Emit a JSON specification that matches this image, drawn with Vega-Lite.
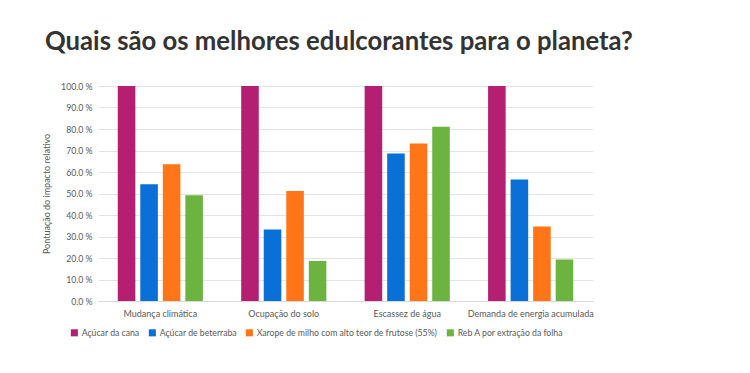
{
  "$schema": "https://vega.github.io/schema/vega-lite/v6.json",
  "width": 495,
  "height": 215,
  "autosize": {"type": "none"},
  "padding": {"left": 98, "top": 86, "right": 157, "bottom": 72},
  "background": "white",
  "title": {
    "text": "Quais são os melhores edulcorantes para o planeta?",
    "anchor": "start",
    "frame": "group",
    "dx": -53,
    "offset": 26,
    "font": "Lato",
    "fontSize": 25.7,
    "fontWeight": "bold",
    "color": "#333333"
  },
  "data": {
    "values": [
      {"categoria": "Mudança climática", "produto": "Açúcar da cana", "valor": 100},
      {"categoria": "Mudança climática", "produto": "Açúcar de beterraba", "valor": 54.3},
      {"categoria": "Mudança climática", "produto": "Xarope de milho com alto teor de frutose (55%)", "valor": 63.6},
      {"categoria": "Mudança climática", "produto": "Reb A por extração da folha", "valor": 49.2},
      {"categoria": "Ocupação do solo", "produto": "Açúcar da cana", "valor": 100},
      {"categoria": "Ocupação do solo", "produto": "Açúcar de beterraba", "valor": 33.2},
      {"categoria": "Ocupação do solo", "produto": "Xarope de milho com alto teor de frutose (55%)", "valor": 51.2},
      {"categoria": "Ocupação do solo", "produto": "Reb A por extração da folha", "valor": 18.6},
      {"categoria": "Escassez de água", "produto": "Açúcar da cana", "valor": 100},
      {"categoria": "Escassez de água", "produto": "Açúcar de beterraba", "valor": 68.6},
      {"categoria": "Escassez de água", "produto": "Xarope de milho com alto teor de frutose (55%)", "valor": 73.3},
      {"categoria": "Escassez de água", "produto": "Reb A por extração da folha", "valor": 81.1},
      {"categoria": "Demanda de energia acumulada", "produto": "Açúcar da cana", "valor": 100},
      {"categoria": "Demanda de energia acumulada", "produto": "Açúcar de beterraba", "valor": 56.5},
      {"categoria": "Demanda de energia acumulada", "produto": "Xarope de milho com alto teor de frutose (55%)", "valor": 34.6},
      {"categoria": "Demanda de energia acumulada", "produto": "Reb A por extração da folha", "valor": 19.3}
    ]
  },
  "mark": {"type": "bar"},
  "encoding": {
    "x": {
      "field": "categoria",
      "type": "nominal",
      "sort": ["Mudança climática", "Ocupação do solo", "Escassez de água", "Demanda de energia acumulada"],
      "scale": {"paddingInner": 0.31, "paddingOuter": 0.16},
      "axis": {
        "title": null,
        "labelAngle": 0,
        "labelFont": "Lato",
        "labelFontSize": 9,
        "labelColor": "#595959",
        "labelPadding": 8,
        "ticks": false,
        "domainColor": "#D9D9D9",
        "grid": false
      }
    },
    "xOffset": {
      "field": "produto",
      "type": "nominal",
      "sort": ["Açúcar da cana", "Açúcar de beterraba", "Xarope de milho com alto teor de frutose (55%)", "Reb A por extração da folha"],
      "scale": {"paddingInner": 0.22, "paddingOuter": 0}
    },
    "y": {
      "field": "valor",
      "type": "quantitative",
      "scale": {"domain": [0, 100], "nice": false},
      "axis": {
        "title": "Pontuação do impacto relativo",
        "titleFont": "Lato",
        "titleFontSize": 9,
        "titleFontWeight": "normal",
        "titleColor": "#595959",
        "titlePadding": 9,
        "values": [0, 10, 20, 30, 40, 50, 60, 70, 80, 90, 100],
        "labelExpr": "format(datum.value, '.1f') + ' %'",
        "labelFont": "Lato",
        "labelFontSize": 8.7,
        "labelColor": "#595959",
        "labelPadding": 6,
        "ticks": false,
        "domain": false,
        "gridColor": "#E3E3E3"
      }
    },
    "color": {
      "field": "produto",
      "type": "nominal",
      "sort": ["Açúcar da cana", "Açúcar de beterraba", "Xarope de milho com alto teor de frutose (55%)", "Reb A por extração da folha"],
      "scale": {
        "domain": ["Açúcar da cana", "Açúcar de beterraba", "Xarope de milho com alto teor de frutose (55%)", "Reb A por extração da folha"],
        "range": ["#B41F72", "#0A6FD6", "#FF7518", "#6DB33F"]
      },
      "legend": {
        "title": null,
        "orient": "none",
        "direction": "horizontal",
        "legendX": -28,
        "legendY": 242,
        "symbolType": "square",
        "symbolSize": 50,
        "symbolStrokeWidth": 0,
        "labelFont": "Lato",
        "labelFontSize": 8.7,
        "labelColor": "#595959",
        "labelOffset": 3,
        "columnPadding": 8,
        "labelLimit": 400
      }
    }
  },
  "config": {
    "view": {"stroke": null}
  }
}
